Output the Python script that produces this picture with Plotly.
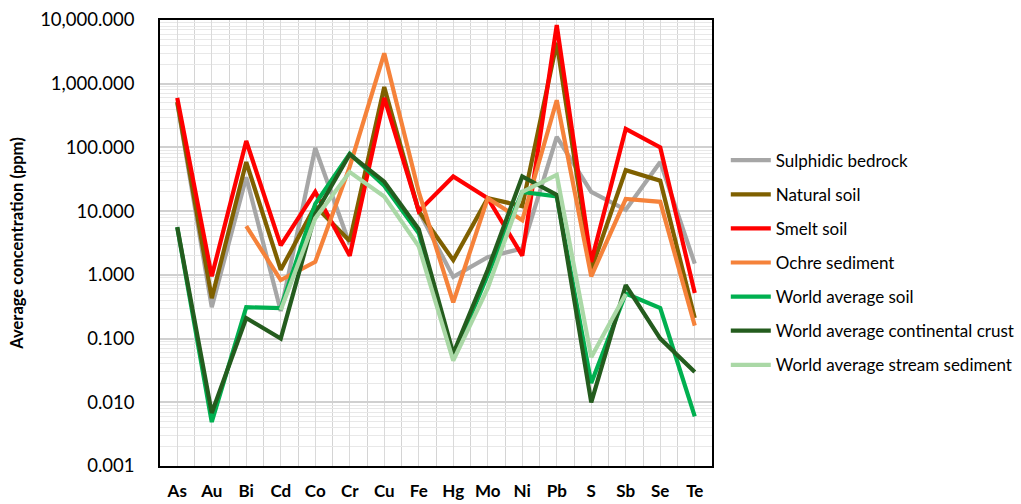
import plotly.graph_objects as go

elements = ["As", "Au", "Bi", "Cd", "Co", "Cr", "Cu", "Fe", "Hg", "Mo", "Ni", "Pb", "S", "Sb", "Se", "Te"]

sulphidic_bedrock = [500, 0.31, 34, 0.27, 98, 3.0, 700, 10, 0.93, 1.9, 2.6, 146, 20, 10.5, 59, 1.5]
natural_soil = [520, 0.43, 59, 1.2, 12, 3.4, 890, 10, 1.7, 16, 12, 4400, 1.2, 44, 30, 0.21]
smelt_soil = [600, 0.95, 126, 2.9, 20, 2.0, 600, 10, 35, 16, 2.0, 8300, 1.6, 195, 100, 0.52]
ochre_sediment = [None, None, 5.8, 0.83, 1.6, 50, 3000, 20, 0.37, 16, 7.2, 550, 0.95, 15.5, 14, 0.16]
world_soil = [5.6, 0.0049, 0.31, 0.3, 13, 80, 25, 4.5, 0.05, 1.0, 20, 17, 0.02, 0.51, 0.3, 0.006]
world_crust = [5.6, 0.0068, 0.21, 0.1, 9, 78, 29, 5.2, 0.058, 1.2, 35, 18, 0.01, 0.69, 0.1, 0.03]
world_stream = [None, None, None, 0.28, 7.7, 41, 17, 2.8, 0.045, 0.62, 20, 37, 0.051, 0.5, None, None]

series_names = ["Sulphidic bedrock", "Natural soil", "Smelt soil", "Ochre sediment",
                "World average soil", "World average continental crust", "World average stream sediment"]
series_values = [sulphidic_bedrock, natural_soil, smelt_soil, ochre_sediment,
                 world_soil, world_crust, world_stream]
colors = ["#A6A6A6", "#7F6000", "#FF0000", "#F5823A", "#00B050", "#245C1E", "#AAD8A6"]

ytick_vals = [0.001, 0.01, 0.1, 1, 10, 100, 1000, 10000]
ytick_text = ["0.001", "0.010", "0.100", "1.000", "10.000", "100.000", "1,000.000", "10,000.000"]

font_family = "Lato, Carlito, Calibri, sans-serif"

fig = go.Figure()
idx = list(range(len(elements)))
for i, (name, vals, col) in enumerate(zip(series_names, series_values, colors)):
    fig.add_trace(go.Scatter(
        x=idx, y=vals, name=name, mode="lines",
        line=dict(color=col, width=4.2), connectgaps=False,
        legendgroup=f"g{i}",
    ))

minor_y = [k * 10 ** e for e in range(-3, 4) for k in range(2, 10)]
minor_x = [i - 0.5 for i in range(len(elements) + 1)]

fig.update_layout(
    width=1021, height=504,
    margin=dict(l=160, r=309, t=20, b=38, autoexpand=False),
    paper_bgcolor="white", plot_bgcolor="white",
    font=dict(family=font_family, color="#000000"),
    showlegend=True,
    legend=dict(
        x=1.025, y=0.725, xanchor="left", yanchor="top",
        font=dict(size=17, family=font_family, color="#000000"),
        tracegroupgap=9, itemwidth=40, bgcolor="rgba(0,0,0,0)",
    ),
    xaxis=dict(
        range=[-0.5, len(elements) - 0.5],
        tickvals=idx, ticktext=[f"<b>{e}</b>" for e in elements],
        tickfont=dict(size=17, family=font_family),
        showgrid=True, gridcolor="#DADADA", gridwidth=1,
        minor=dict(tickvals=minor_x, showgrid=True, gridcolor="#D4D4D4", gridwidth=1, ticks=""),
        showline=True, linecolor="#000000", linewidth=1.5, mirror=True,
        ticks="", zeroline=False, ticklabelstandoff=9, automargin=False,
    ),
    yaxis=dict(
        type="log", range=[-3, 4],
        tickvals=ytick_vals, ticktext=ytick_text,
        tickfont=dict(size=18.5, family=font_family),
        title=dict(text="<b>Average concentration (ppm)</b>", font=dict(size=16.5, family=font_family), standoff=12),
        showgrid=True, gridcolor="#D0D0D0", gridwidth=1.5,
        minor=dict(tickvals=minor_y, showgrid=True, gridcolor="#E8E8E8", gridwidth=1, ticks=""),
        showline=True, linecolor="#000000", linewidth=1.5, mirror=True,
        ticks="", zeroline=False, ticklabelstandoff=20, automargin=False,
    ),
)

fig.write_html("out.html")
